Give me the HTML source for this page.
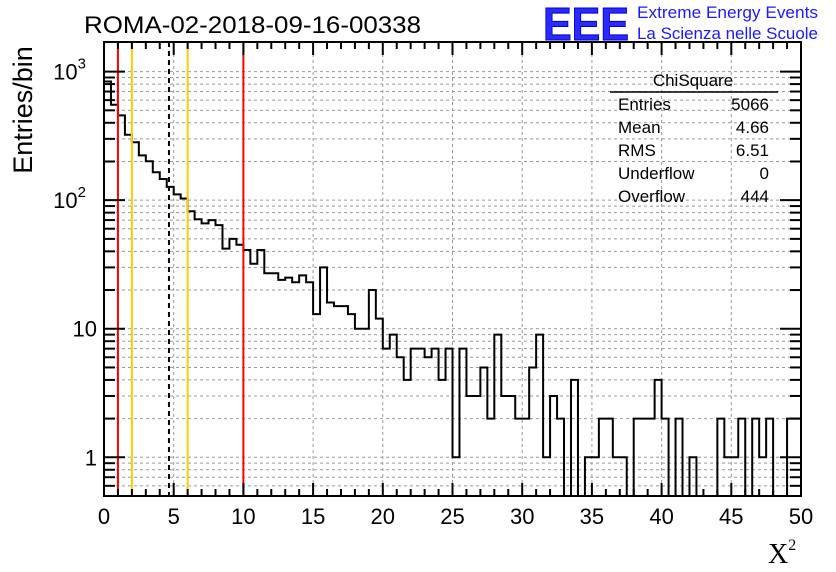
<!DOCTYPE html>
<html><head><meta charset="utf-8">
<style>
body{margin:0;background:#fff;}
svg{display:block;font-family:"Liberation Sans",sans-serif;}
</style></head>
<body>
<svg id="c" width="836" height="572">
  <g>
    <text x="543" y="40" font-size="46" font-weight="bold" fill="#2a2aff" stroke="#0000cc" stroke-width="1" textLength="86" lengthAdjust="spacingAndGlyphs">EEE</text>
    <text x="637" y="18" font-size="17" fill="#1a1aff" textLength="181" lengthAdjust="spacingAndGlyphs">Extreme Energy Events</text>
    <text x="637" y="39" font-size="17" fill="#1a1aff" textLength="181" lengthAdjust="spacingAndGlyphs">La Scienza nelle Scuole</text>
  </g>
  <text x="84" y="33" font-size="24" textLength="337" lengthAdjust="spacingAndGlyphs">ROMA-02-2018-09-16-00338</text>
  <text transform="translate(32,110) rotate(-90)" text-anchor="middle" font-size="27">Entries/bin</text>
  <text x="768" y="563" font-size="28" font-family="Liberation Serif,serif">X<tspan font-size="16" dy="-13">2</tspan></text>
  <g id="grid"></g>
  <g id="marks"></g>
  <g id="axes"></g>
  <g font-size="17">
    <text x="693" y="86" text-anchor="middle">ChiSquare</text>
    <line x1="610" y1="92" x2="778" y2="92" stroke="#000" stroke-width="1.5"/>
    <text x="618" y="110">Entries</text><text x="769" y="110" text-anchor="end">5066</text>
    <text x="618" y="133">Mean</text><text x="769" y="133" text-anchor="end">4.66</text>
    <text x="618" y="156">RMS</text><text x="769" y="156" text-anchor="end">6.51</text>
    <text x="618" y="179">Underflow</text><text x="769" y="179" text-anchor="end">0</text>
    <text x="618" y="202">Overflow</text><text x="769" y="202" text-anchor="end">444</text>
  </g>
</svg>
<script>
const binWidth = 0.5;
const counts = [837,552,457,323,282,223,201,165,146,127,111,103,82,71,66,70,64,42,50,45,41,32,41,27,27,24,25,23,26,23,13,30,16,15,15,13,10,10,20,12,7,9,6,4,7,7,6,7,4,7,1,7,3,3,5,2,9,3,3,2,2,5,9,1,3,2,0,4,0,1,1,2,2,1,1,0,2,2,2,4,2,0,2,0,1,0,0,0,2,1,1,2,0,2,1,2,0,0,2,2];
const xTicks = [0,5,10,15,20,25,30,35,40,45,50];
const redLines = [1,10];
const orangeLines = [2,6];
const meanLine = [4.66];
const X0=104,X1=801,Y0=42,Y1=496;
const xmin=0,xmax=50,ymin=0.5,ymax=1700;
const sx=v=>X0+(v-xmin)/(xmax-xmin)*(X1-X0);
const sy=v=>Y1-(Math.log10(Math.max(v,ymin))-Math.log10(ymin))/(Math.log10(ymax)-Math.log10(ymin))*(Y1-Y0);
const NS='http://www.w3.org/2000/svg';
function mk(p,tag,attrs){const e=document.createElementNS(NS,tag);for(const k in attrs)e.setAttribute(k,attrs[k]);p.appendChild(e);return e;}
const grid=document.getElementById('grid'),marks=document.getElementById('marks'),axes=document.getElementById('axes');
xTicks.forEach(t=>{if(t>xmin&&t<xmax){const l=mk(grid,'line',{x1:sx(t),x2:sx(t),y1:Y0,y2:Y1,stroke:'#999','stroke-dasharray':'3,3'});

}});
for(let d=-1;d<=3;d++)for(let m=1;m<10;m++){const v=m*Math.pow(10,d);if(v<=ymin||v>=ymax)continue;
const l=mk(grid,'line',{x1:X0,x2:X1,y1:sy(v),y2:sy(v),stroke:'#999','stroke-dasharray':'3,3'});

}
let d='M'+sx(0)+' '+Y1;
counts.forEach((c,i)=>{const y=c>0?sy(c):Y1;d+=' L'+sx(i*binWidth)+' '+y+' L'+sx((i+1)*binWidth)+' '+y;});
d+=' L'+sx(counts.length*binWidth)+' '+Y1;
const h=mk(marks,'path',{d:d,fill:'none',stroke:'#000','stroke-width':2});


function vline(v,col,dash,name){const l=mk(marks,'line',{x1:sx(v),x2:sx(v),y1:Y0,y2:Y1,stroke:col,'stroke-width':2});if(dash)l.setAttribute('stroke-dasharray',dash);

}
redLines.forEach(v=>vline(v,'#ff0000',null,'red-cut-line'));
orangeLines.forEach(v=>vline(v,'#ffcc00',null,'orange-cut-line'));
meanLine.forEach(v=>vline(v,'#000','5,4','mean-line'));
const fr=mk(axes,'rect',{x:X0,y:Y0,width:X1-X0,height:Y1-Y0,fill:'none',stroke:'#000','stroke-width':2});


for(let t=xmin;t<=xmax;t++){const L=t%5===0?13:7;const x=sx(t);
mk(axes,'line',{x1:x,x2:x,y1:Y1,y2:Y1-L,stroke:'#000','stroke-width':2});
mk(axes,'line',{x1:x,x2:x,y1:Y0,y2:Y0+L,stroke:'#000','stroke-width':2});}
xTicks.forEach(t=>{const e=mk(axes,'text',{x:sx(t),y:524,'text-anchor':'middle','font-size':22});e.textContent=t;

});
for(let dd=-1;dd<=3;dd++)for(let m=1;m<10;m++){const v=m*Math.pow(10,dd);if(v<ymin||v>ymax)continue;const L=m===1?21:11;const y=sy(v);
mk(axes,'line',{x1:X0,x2:X0+L,y1:y,y2:y,stroke:'#000','stroke-width':2});
mk(axes,'line',{x1:X1,x2:X1-L,y1:y,y2:y,stroke:'#000','stroke-width':2});}
const yLabels=[[1,'1',''],[10,'10',''],[100,'10','2'],[1000,'10','3']];
yLabels.forEach(([v,b,s])=>{const e=mk(axes,'text',{x:s?86:97,y:sy(v)+8,'text-anchor':'end','font-size':22});e.textContent=b;
if(s){const sp=mk(e,'tspan',{'font-size':15,dy:-11});sp.textContent=s;}

});
</script>
</body></html>
